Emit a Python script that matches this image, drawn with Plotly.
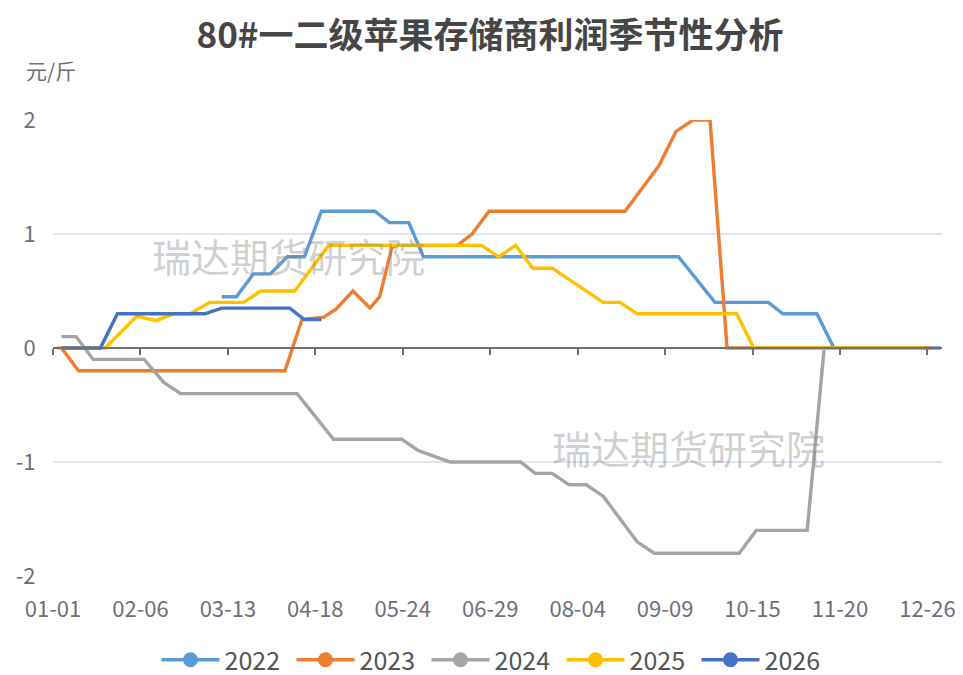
import pandas as pd
import plotly.graph_objects as go

# ---------------- data ----------------
categories = pd.date_range("2024-01-01", "2024-12-31").strftime("%m-%d").tolist()
tick_labels = categories[::36]

dates_2022 = ["03-10", "03-16", "03-23", "03-30", "04-06", "04-13", "04-20", "05-12", "05-18",
              "05-26", "06-01", "09-14", "09-29", "10-21", "10-27", "11-10", "11-17", "12-31"]
vals_2022 = [0.45, 0.45, 0.65, 0.65, 0.8, 0.8, 1.2, 1.2, 1.1,
             1.1, 0.8, 0.8, 0.4, 0.4, 0.3, 0.3, 0, 0]

dates_2023 = ["01-04", "01-11", "04-05", "04-12", "04-21", "04-26", "05-03", "05-10", "05-14",
              "05-19", "05-21", "06-15", "06-21", "06-28", "08-23", "09-06", "09-13", "09-20",
              "09-27", "10-04", "12-27"]
vals_2023 = [0, -0.2, -0.2, 0.25, 0.27, 0.34, 0.5, 0.35, 0.45,
             0.88, 0.9, 0.9, 1.0, 1.2, 1.2, 1.6, 1.9, 2.0,
             2.0, 0, 0]

dates_2024 = ["01-04", "01-10", "01-17", "02-07", "02-15", "02-22", "04-10", "04-25", "05-23",
              "05-30", "06-12", "07-11", "07-17", "07-24", "07-31", "08-07", "08-14", "08-28",
              "09-04", "10-09", "10-16", "11-06", "11-13", "12-24"]
vals_2024 = [0.1, 0.1, -0.1, -0.1, -0.3, -0.4, -0.4, -0.8, -0.8,
             -0.9, -1.0, -1.0, -1.1, -1.1, -1.2, -1.2, -1.3, -1.7,
             -1.8, -1.8, -1.6, -1.6, 0, 0]

dates_2025 = ["01-02", "01-22", "02-04", "02-12", "02-19", "02-26", "03-05", "03-19", "03-26",
              "04-09", "04-16", "04-23", "06-25", "07-02", "07-09", "07-16", "07-24", "08-14",
              "08-21", "08-28", "10-08", "10-15", "12-24"]
vals_2025 = [0, 0, 0.28, 0.24, 0.3, 0.3, 0.4, 0.4, 0.5,
             0.5, 0.7, 0.9, 0.9, 0.8, 0.9, 0.7, 0.7, 0.4,
             0.4, 0.3, 0.3, 0, 0]

dates_2026 = ["01-04", "01-20", "01-27", "03-03", "03-10", "04-07", "04-13", "04-20"]
vals_2026 = [0, 0, 0.3, 0.3, 0.35, 0.35, 0.25, 0.25]

series_names = ["2022", "2023", "2024", "2025", "2026"]
series_dates = [dates_2022, dates_2023, dates_2024, dates_2025, dates_2026]
series_vals = [vals_2022, vals_2023, vals_2024, vals_2025, vals_2026]
colors = ["#5B9BD5", "#ED7D31", "#A5A5A5", "#FFC000", "#4472C4"]

y_ticks = [-2, -1, 0, 1, 2]
y_tick_text = ["-2", "-1", "0", "1", "2"]

# ---------------- figure ----------------
pos = {c: i for i, c in enumerate(categories)}
tick_pos = [pos[t] for t in tick_labels]

fig = go.Figure()
for name, ds, vs, col in zip(series_names, series_dates, series_vals, colors):
    fig.add_trace(go.Scatter(
        x=[pos[d] + 0.5 for d in ds], y=vs, mode="lines", name=name,
        line=dict(color=col, width=3.4), showlegend=False, legendgroup=name,
    ))
# legend entries (line + circle icon)
for name, col in zip(series_names, colors):
    fig.add_trace(go.Scatter(
        x=[None], y=[None], mode="lines+markers", name=name, legendgroup=name,
        line=dict(color=col, width=3.5), marker=dict(color=col, size=15),
        xaxis="x2", hoverinfo="skip",
    ))

axis_gray = "#6E7079"
FONT = "Noto Sans CJK SC, Noto Sans, sans-serif"

# the page places the figure 8px from the top-left corner (default body margin)
W, H = 955, 667

fig.update_layout(
    width=W, height=H,
    margin=dict(l=45, r=21, t=112, b=99, autoexpand=False),
    paper_bgcolor="white", plot_bgcolor="white",
    font=dict(family=FONT, color=axis_gray),
    title=dict(text="<b>80#一二级苹果存储商利润季节性分析</b>", x=482 / W, xanchor="center",
               y=1 - 28 / H, yanchor="middle", yref="container",
               font=dict(size=35, color="#464646", family=FONT)),
    xaxis=dict(range=[0, 366], tickmode="array", tickvals=tick_pos, ticktext=tick_labels,
               showgrid=False, zeroline=False, showline=False, automargin=False,
               ticks="outside", ticklen=14, tickcolor="rgba(0,0,0,0)",
               tickfont=dict(size=22, color=axis_gray)),
    xaxis2=dict(range=[0, 366], overlaying="x", anchor="free", position=0.5,
                tickmode="array", tickvals=tick_pos, showticklabels=False, automargin=False,
                showgrid=False, zeroline=False, showline=True, linecolor=axis_gray, linewidth=1.5,
                ticks="outside", ticklen=6, tickcolor=axis_gray, tickwidth=1.5),
    yaxis=dict(range=[-2, 2], tickmode="array", tickvals=y_ticks, ticktext=y_tick_text,
               showgrid=True, gridcolor="#E0E6F1", gridwidth=1.5, zeroline=False, showline=False,
               automargin=False,
               ticks="outside", ticklen=12, tickcolor="rgba(0,0,0,0)",
               tickfont=dict(size=22, color=axis_gray)),
    legend=dict(orientation="h", x=(486 - 45) / 889, xanchor="center", y=1 - 652 / H,
                yref="container", yanchor="middle",
                font=dict(size=25, color="#555555"), entrywidth=62, entrywidthmode="pixels",
                itemwidth=58, bgcolor="rgba(0,0,0,0)"),
    annotations=[
        dict(text="元/斤", xref="paper", yref="paper", x=-0.033, y=1.11, xanchor="left",
             yanchor="middle", showarrow=False, font=dict(size=21, color=axis_gray)),
        dict(text="瑞达期货研究院", xref="paper", yref="paper", x=(288 - 53) / 889,
             y=(576 - 255) / 456, xanchor="center", yanchor="middle", showarrow=False,
             font=dict(size=39, color="rgba(140,140,140,0.42)")),
        dict(text="瑞达期货研究院", xref="paper", yref="paper", x=(688 - 53) / 889,
             y=(576 - 447) / 456, xanchor="center", yanchor="middle", showarrow=False,
             font=dict(size=39, color="rgba(140,140,140,0.42)")),
    ],
    hovermode=False,
)

fig.write_html("out.html")
